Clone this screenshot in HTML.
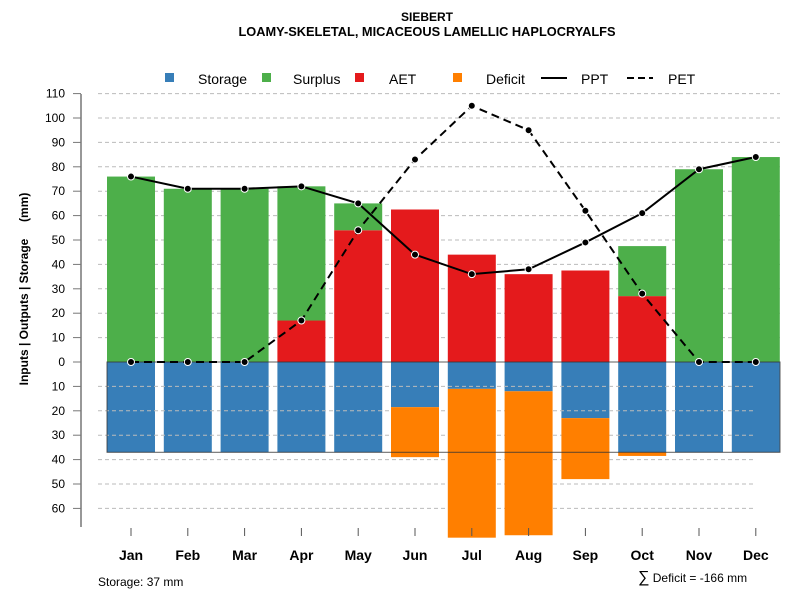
<!DOCTYPE html>
<html><head><meta charset="utf-8"><style>body{margin:0;background:#fff}svg{font-family:"Liberation Sans",sans-serif}</style></head>
<body>
<svg id="c" width="800" height="600" xmlns="http://www.w3.org/2000/svg">
<text x="427" y="21" text-anchor="middle" font-size="12" font-weight="bold">SIEBERT</text>
<text x="427" y="36" text-anchor="middle" font-size="12.8" font-weight="bold">LOAMY-SKELETAL, MICACEOUS LAMELLIC HAPLOCRYALFS</text>
<g font-size="14">
<rect x="165" y="73" width="9" height="9" fill="#377EB8"/><text x="198" y="84">Storage</text>
<rect x="262" y="73" width="9" height="9" fill="#4DAF4A"/><text x="293" y="84">Surplus</text>
<rect x="355" y="73" width="9" height="9" fill="#E41A1C"/><text x="389" y="84">AET</text>
<rect x="453" y="73" width="9" height="9" fill="#FF7F00"/><text x="486" y="84">Deficit</text>
<line x1="541" y1="78" x2="567" y2="78" stroke="#000" stroke-width="2"/><text x="581" y="84">PPT</text>
<line x1="627" y1="78" x2="653" y2="78" stroke="#000" stroke-width="2" stroke-dasharray="7,4"/><text x="668" y="84">PET</text>
</g>
<g id="storage"></g><g id="grid"></g><g id="bars"></g><g id="axes"></g><g id="lines"></g>
<text transform="translate(28,289) rotate(-90)" text-anchor="middle" font-size="12" font-weight="bold" style="white-space:pre">Inputs | Outputs | Storage     (mm)</text>
<text x="98" y="586" font-size="12">Storage: 37 mm</text>
<text x="638" y="582" font-size="12"><tspan font-size="16">∑</tspan> Deficit = -166 mm</text>
</svg>
<script>
const months=["Jan","Feb","Mar","Apr","May","Jun","Jul","Aug","Sep","Oct","Nov","Dec"];
const ppt=[76,71,71,72,65,44,36,38,49,61,79,84];
const pet=[0,0,0,17,54,83,105,95,62,28,0,0];
const aet=[0,0,0,17,54,62.5,44,36,37.5,27,0,0];
const surplus=[76,71,71,55,11,0,0,0,0,20.5,79,84];
const storage=[37,37,37,37,37,18.5,11,12,23,37,37,37];
const deficit=[0,0,0,0,0,20.5,61,59,25,1.5,0,0];
const yTicksUp=[0,10,20,30,40,50,60,70,80,90,100,110];
const yTicksDown=[10,20,30,40,50,60];
const storageCap=37;
const NS="http://www.w3.org/2000/svg";
const y=v=>362-v*2.44;
const x=i=>131+i*56.8;
const bw=48;
function mk(p,tag,a){const e=document.createElementNS(NS,tag);for(const k in a)e.setAttribute(k,a[k]);document.getElementById(p).appendChild(e);return e;}
months.forEach((m,i)=>{
 const r=mk("storage","rect",{x:x(i)-bw/2,y:y(0),width:bw,height:y(-storage[i])-y(0),fill:"#377EB8"});
 
 
});
[...yTicksUp,...yTicksDown.map(v=>-v)].forEach(v=>{
 if(v===0)return;
 const g=mk("grid","line",{x1:98,x2:v<0?755:780,y1:y(v),y2:y(v),stroke:"#bbb","stroke-dasharray":"4,3"});
 
 
});
months.forEach((m,i)=>{
 const xi=x(i)-bw/2;
 if(deficit[i]>0){const r=mk("bars","rect",{x:xi,y:y(-storage[i]),width:bw,height:deficit[i]*2.44,fill:"#FF7F00"});
  
  }
 if(aet[i]>0){const r=mk("bars","rect",{x:xi,y:y(aet[i]),width:bw,height:aet[i]*2.44,fill:"#E41A1C"});
  
  }
 if(surplus[i]>0){const r=mk("bars","rect",{x:xi,y:y(aet[i]+surplus[i]),width:bw,height:surplus[i]*2.44,fill:"#4DAF4A"});
  
  }
 const t=mk("axes","line",{x1:x(i),x2:x(i),y1:528,y2:536,stroke:"#555"});
 
 
 const l=mk("axes","text",{x:x(i),y:560,"text-anchor":"middle","font-size":"14","font-weight":"bold"});
 l.textContent=m;
 
 
});
const box=mk("axes","rect",{x:107,y:y(0),width:673,height:storageCap*2.44,fill:"none",stroke:"#333","stroke-opacity":"0.8"});


const ax=mk("axes","line",{x1:81,x2:81,y1:94,y2:527,stroke:"#777","stroke-width":"1.5"});


[...yTicksUp,...yTicksDown.map(v=>-v)].forEach(v=>{
 const t=mk("axes","line",{x1:73,x2:81,y1:y(v),y2:y(v),stroke:"#777"});
 
 
 const l=mk("axes","text",{x:65,y:y(v)+4,"text-anchor":"end","font-size":"12"});
 l.textContent=Math.abs(v);
 
 
});
function series(arr,dash,name){
 const p=mk("lines","polyline",{points:arr.map((v,i)=>x(i)+","+y(v)).join(" "),fill:"none",stroke:"#000","stroke-width":"2","stroke-dasharray":dash});
 
 
 arr.forEach((v,i)=>{
  const c=mk("lines","circle",{cx:x(i),cy:y(v),r:3.5,fill:"#000",stroke:"#fff","stroke-width":"1"});
  
  
 });
}
series(pet,"8,5","pet");
series(ppt,"none","ppt");
</script>
</body></html>
